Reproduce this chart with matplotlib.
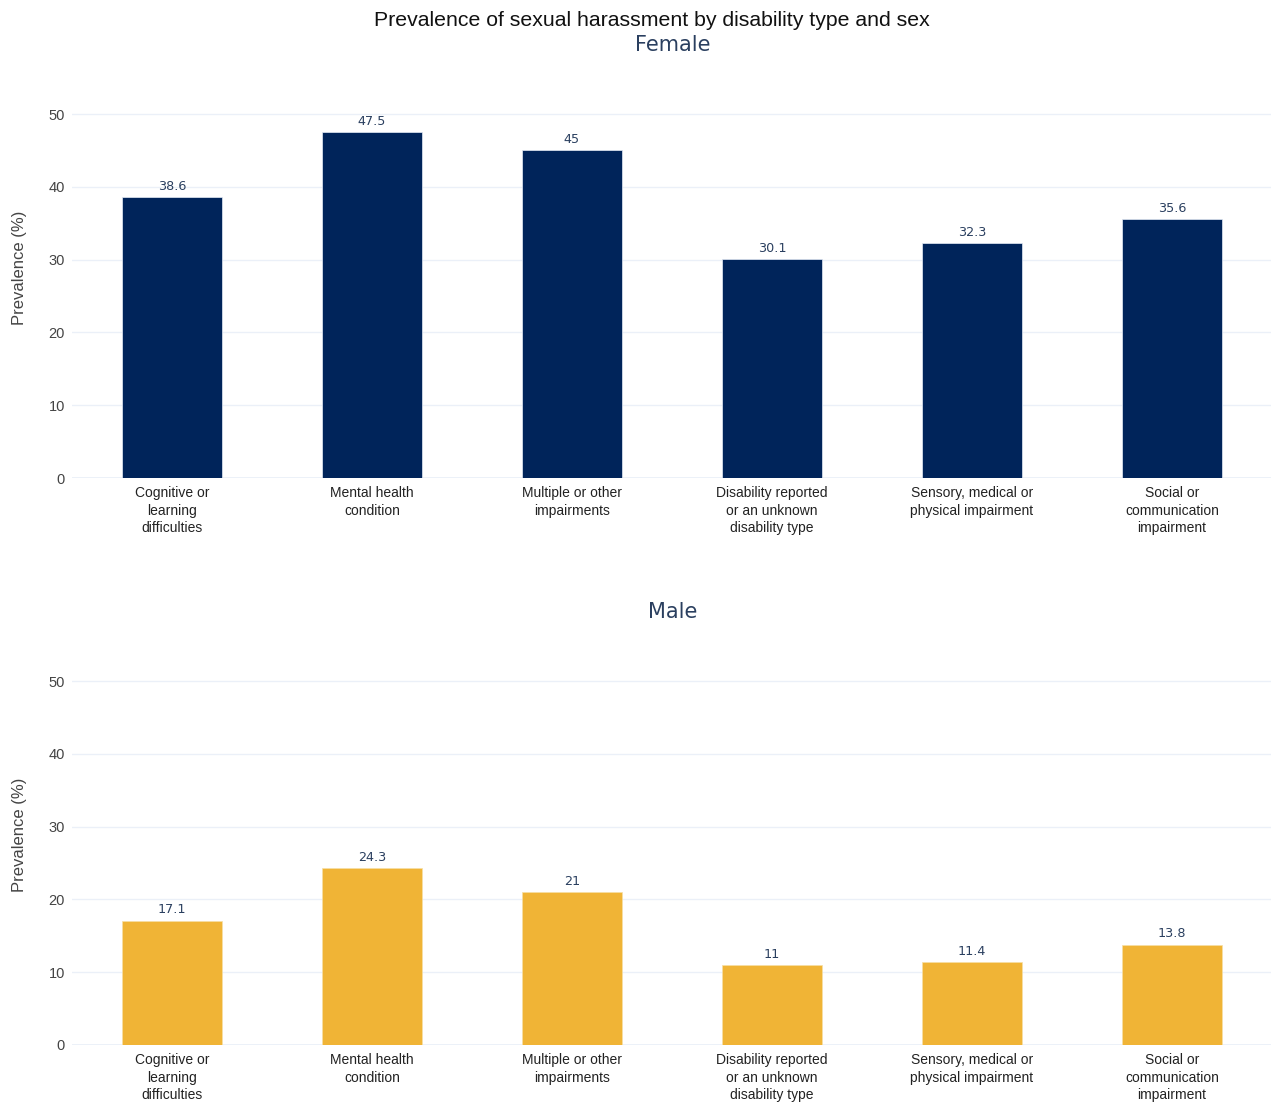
import matplotlib
matplotlib.use("Agg")
import matplotlib.pyplot as plt

categories = [
    "Cognitive or\nlearning\ndifficulties",
    "Mental health\ncondition",
    "Multiple or other\nimpairments",
    "Disability reported\nor an unknown\ndisability type",
    "Sensory, medical or\nphysical impairment",
    "Social or\ncommunication\nimpairment",
]
female_values = [38.6, 47.5, 45, 30.1, 32.3, 35.6]
male_values = [17.1, 24.3, 21, 11, 11.4, 13.8]
female_labels = ["38.6", "47.5", "45", "30.1", "32.3", "35.6"]
male_labels = ["17.1", "24.3", "21", "11", "11.4", "13.8"]
y_ticks = [0, 10, 20, 30, 40, 50]
y_max = 57.7

NAVY = "#00245a"
GOLD = "#f0b436"
GRID = "#ebf0f8"
TITLE_BLUE = "#2a3f5f"
TEXT = "#444444"

W, H = 1271, 1104
fig = plt.figure(figsize=(W / 100, H / 100), dpi=100)

def px_axes(left, top, right, bottom):
    return fig.add_axes([left / W, 1 - bottom / H, (right - left) / W, (bottom - top) / H])

ax_f = px_axes(72, 58, 1272, 478)
ax_m = px_axes(72, 625, 1272, 1045)

def draw(ax, values, labels, color, edge):
    x = list(range(len(categories)))
    ax.bar(x, values, width=0.5, color=color, edgecolor=edge, linewidth=0.5, zorder=3)
    for xi, v, lab in zip(x, values, labels):
        ax.annotate(lab, (xi, v), xytext=(0, 3), textcoords="offset points",
                    ha="center", va="bottom", fontsize=9.2, color=TITLE_BLUE,
                    family="DejaVu Sans", zorder=4)
    ax.set_xlim(-0.5, len(categories) - 0.5)
    ax.set_ylim(0, y_max)
    ax.set_yticks(y_ticks)
    ax.set_yticklabels([str(t) for t in y_ticks], fontsize=10.5, color=TEXT,
                       family="Liberation Sans")
    ax.set_xticks(x)
    ax.set_xticklabels(categories, fontsize=10, color="#222222",
                       family="Liberation Sans", linespacing=1.32)
    ax.tick_params(axis="both", length=0)
    ax.tick_params(axis="y", pad=5)
    ax.tick_params(axis="x", pad=6)
    ax.grid(axis="y", color=GRID, linewidth=1, zorder=0)
    ax.axhline(0, color=GRID, linewidth=2, zorder=2)
    for s in ax.spines.values():
        s.set_visible(False)
    ax.set_ylabel("Prevalence (%)", fontsize=12, color=TEXT,
                  family="Liberation Sans")
    ax.yaxis.set_label_coords(-45 / 1200, 0.5)
    ax.set_axisbelow(True)

draw(ax_f, female_values, female_labels, NAVY, "#e5ecf6")
draw(ax_m, male_values, male_labels, GOLD, "#f6dfa6")

fig.text(652 / W, 1 - 20 / H, "Prevalence of sexual harassment by disability type and sex",
         ha="center", va="center", fontsize=15.3, color="#111111", family="Liberation Sans")
fig.text(673 / W, 1 - 45 / H, "Female", ha="center", va="center",
         fontsize=15, color=TITLE_BLUE, family="DejaVu Sans")
fig.text(673 / W, 1 - 612 / H, "Male", ha="center", va="center",
         fontsize=15, color=TITLE_BLUE, family="DejaVu Sans")

fig.savefig("out.png", dpi=100, facecolor="white")
